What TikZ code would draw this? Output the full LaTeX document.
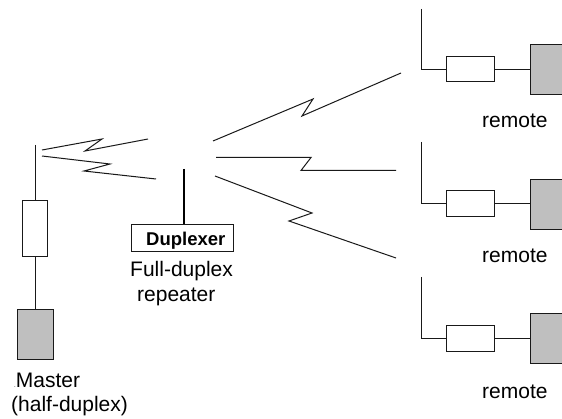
\documentclass[tikz,border=0pt]{standalone}
\usepackage{fontspec}
\setmainfont{Liberation Sans}
\begin{document}
\begin{tikzpicture}[x=1pt,y=-1pt,
  wire/.style={line width=1pt,draw=black!90,line join=miter},
  mastwire/.style={line width=1.5pt,draw=black},
  filterbox/.style={draw=black!90,line width=1pt,fill=white,inner sep=0pt,minimum width=24.5pt,minimum height=25pt},
  radiobox/.style={draw=black!90,line width=1pt,fill=black!25,inner sep=0pt},
  duplexbox/.style={draw=black!90,line width=1pt,fill=white,inner sep=0pt,minimum width=102pt,minimum height=26.5pt},
  label/.style={anchor=base west,inner sep=0pt,font=\fontsize{21}{24}\selectfont,text=black}]
\useasboundingbox (0,0) rectangle (562,419);
\clip (0,0) rectangle (562,419);
\fill[white] (0,0) rectangle (562,419);

% Master
\coordinate (mtop) at (35.5,145);
\node[filterbox,minimum width=24.5pt,minimum height=56pt] (mfilter) at (35,228.3) {};
\node[radiobox,minimum width=36pt,minimum height=50pt] (mradio) at (35.3,334.3) {};
\draw[wire] (mtop) -- (mtop |- mfilter.north);
\draw[wire] (mtop |- mfilter.south) -- (mtop |- mradio.north);

% Links master - repeater
\coordinate (a1) at (42,150);\coordinate (a2) at (148,139);
\coordinate (b1) at (42,156);\coordinate (b2) at (156,179);
\draw[wire] (a1) -- (102,139) -- (85,151) -- (a2);
\draw[wire] (b1) -- (110,164) -- (84,171) -- (b2);

% Repeater
\node[duplexbox] (dup) at (182.5,238.2) {};
\node[anchor=base west,inner sep=0pt,font=\fontsize{18.5}{22}\selectfont\bfseries,text=black] (duptext) at (146,245.5) {Duplexer};
\coordinate (rtop) at (184,169);
\draw[mastwire] (rtop) -- (rtop |- dup.north);

% Links repeater - remotes
\coordinate (c1) at (213,141);\coordinate (c2) at (401,73);
\coordinate (d1) at (216,157.5);\coordinate (d2) at (396,170.5);
\coordinate (e1) at (215,176);\coordinate (e2) at (396,258);
\draw[wire] (c1) -- (313,99) -- (302,116) -- (c2);
\draw[wire] (d1) -- (311,157.5) -- (301,170.5) -- (d2);
\draw[wire] (e1) -- (312,213) -- (289,221) -- (e2);

% Remote 1
\coordinate (t1) at (421.7,9);
\node[filterbox,minimum width=48.5pt] (f1) at (470.3,69.5) {};
\node[radiobox,minimum width=36pt,minimum height=50pt,anchor=west] (g1) at (529.5,69.3) {};
\draw[wire] (t1) |- (f1.west);
\draw[wire] (f1.east) -- (f1.east -| g1.west);

% Remote 2
\coordinate (t2) at (421.7,142);
\node[filterbox,minimum width=48.5pt,minimum height=26pt] (f2) at (470.3,204) {};
\node[radiobox,minimum width=36pt,minimum height=49.5pt,anchor=west] (g2) at (529.5,204.5) {};
\draw[wire] (t2) |- (f2.west);
\draw[wire] (f2.east) -- (f2.east -| g2.west);

% Remote 3
\coordinate (t3) at (421.7,277);
\node[filterbox,minimum width=48.5pt,minimum height=25.5pt] (f3) at (470.3,338.5) {};
\node[radiobox,minimum width=36pt,minimum height=50pt,anchor=west] (g3) at (529.5,339) {};
\draw[wire] (t3) |- (f3.west);
\draw[wire] (f3.east) -- (f3.east -| g3.west);

% Labels
\node[label] (lm1) at (14,388) {{\fontsize{6}{6}\selectfont .}Master};
\node[label] (lm2) at (11,411.5) {(half-duplex)};
\node[label] (lr1) at (130,277) {Full-duplex};
\node[label] (lr2) at (137,302) {repeater};
\node[label] (lt1) at (482,128) {remote};
\node[label] (lt2) at (482,263) {remote};
\node[label] (lt3) at (482,398) {remote};
\end{tikzpicture}
\end{document}
